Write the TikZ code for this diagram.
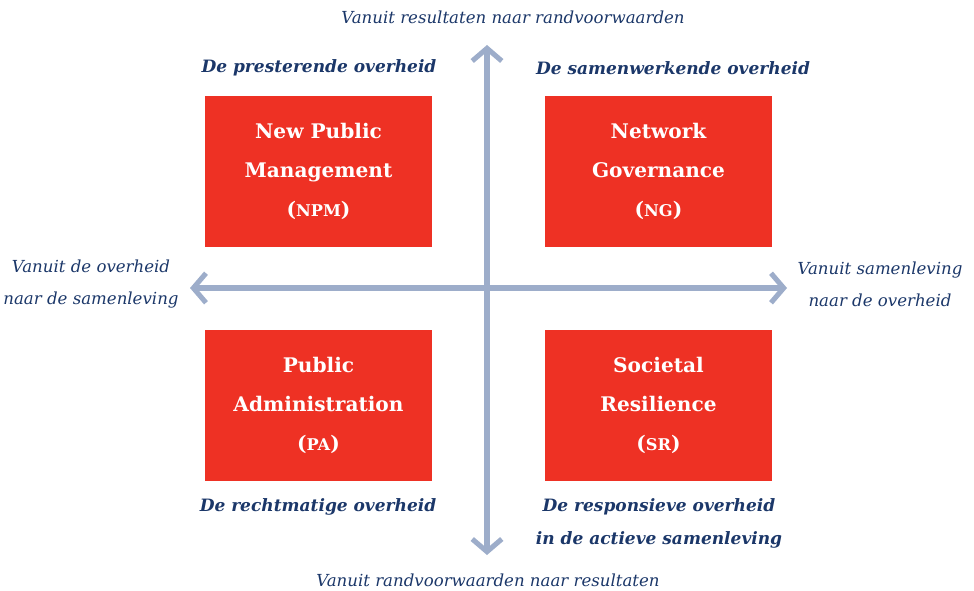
\documentclass[tikz,border=0pt]{standalone}
\usepackage{fontspec}
\setmainfont{DejaVu Serif}
\usetikzlibrary{arrows.meta}
\definecolor{kwadrantrood}{HTML}{EE3124}
\definecolor{asgrijs}{HTML}{9DADCA}
\definecolor{tekstblauw}{HTML}{1B3769}
\newcommand{\afk}[1]{{\fontsize{11.5}{12}\selectfont #1}}
\tikzset{
  kwadrant/.style={fill=kwadrantrood, text=white, align=center, inner sep=0pt,
    minimum width=5.675cm, minimum height=3.775cm,
    font=\bfseries\fontsize{14.3}{27.5}\selectfont},
  as/.style={draw=asgrijs, line width=3.6pt,
    -{Straight Barb[length=9pt,width=21pt]}},
  richting/.style={text=tekstblauw, align=center, inner sep=0pt,
    font=\itshape\fontsize{11.8}{22.7}\selectfont},
  overheid/.style={text=tekstblauw, align=center, inner sep=0pt,
    font=\bfseries\itshape\fontsize{12.1}{23.4}\selectfont}
}
\begin{document}
\begin{tikzpicture}[x=0.025cm, y=-0.025cm]
    \useasboundingbox (0,0) rectangle (974,591);
    % assen
    \coordinate (midden) at (487,288);
    \coordinate (boven) at (487,45);
    \coordinate (onder) at (487,555);
    \coordinate (links) at (190,288);
    \coordinate (rechts) at (787,288);
    \draw[as] (midden) -- (boven);
    \draw[as] (midden) -- (onder);
    \draw[as] (midden) -- (links);
    \draw[as] (midden) -- (rechts);
    % kwadranten
    \node[kwadrant] (npm) at (318.5,171.5) {New Public\\Management\\(\afk{NPM})};
    \node[kwadrant] (ng) at (658.5,171.5) {Network\\Governance\\(\afk{NG})};
    \node[kwadrant] (pa) at (318.5,405.5) {Public\\Administration\\(\afk{PA})};
    \node[kwadrant] (sr) at (658.5,405.5) {Societal\\Resilience\\(\afk{SR})};
    % richtingen
    \node[richting] (tboven) at (513,17) {Vanuit resultaten naar randvoorwaarden};
    \node[richting] (tonder) at (488,580) {Vanuit randvoorwaarden naar resultaten};
    \node[richting] (tlinks) at (91,284) {Vanuit de overheid\\naar de samenleving};
    \node[richting] (trechts) at (880,284) {Vanuit samenleving\\naar de overheid};
    % overheden
    \node[overheid] (presterend) at (319,68) {De presterende overheid};
    \node[overheid] (samenwerkend) at (673,68) {De samenwerkende overheid};
    \node[overheid] (rechtmatig) at (318,507) {De rechtmatige overheid};
    \node[overheid] (responsief) at (659,523) {De responsieve overheid\\in de actieve samenleving};
  \end{tikzpicture}
\end{document}
